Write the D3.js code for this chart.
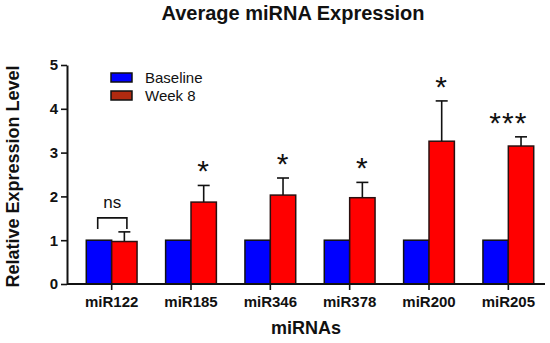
<!DOCTYPE html>
<html>
<head>
<meta charset="utf-8">
<script src="https://cdn.jsdelivr.net/npm/d3@7"></script>
<style>
  body { margin: 0; background: #fff; }
  text { font-family: "Liberation Sans", Arial, sans-serif; }
</style>
</head>
<body>
<div id="chart"></div>
<script>
// data
var categories = ["miR122", "miR185", "miR346", "miR378", "miR200", "miR205"];
var baseline = [1, 1, 1, 1, 1, 1];
var week8 = [0.97, 1.87, 2.03, 1.97, 3.26, 3.15];
var week8Err = [0.22, 0.38, 0.39, 0.35, 0.92, 0.21];
var marks = ["ns", "*", "*", "*", "*", "***"];
var yTicks = [0, 1, 2, 3, 4, 5];
var seriesNames = ["Baseline", "Week 8"];

var width = 550, height = 343;
var margin = {top: 65, right: 4, bottom: 59, left: 67};
var widthG = width - margin.left - margin.right;
var heightG = height - margin.top - margin.bottom;

var svg = d3.select("#chart").append("svg")
  .attr("width", width)
  .attr("height", height);

var g = svg.append("g")
  .attr("transform", "translate(" + margin.left + "," + margin.top + ")");

// scales
var x = d3.scaleBand()
  .domain(categories)
  .range([5, widthG + 2])
  .paddingInner(0.36)
  .paddingOuter(0.18);

var y = d3.scaleLinear()
  .domain([0, 5])
  .range([heightG, 0]);

var barW = x.bandwidth() / 2;

// bars
var groups = g.selectAll(".grp")
  .data(categories)
  .enter()
  .append("g")
  .attr("class", "grp");

groups.append("rect")
  .attr("x", function(d) { return x(d); })
  .attr("y", function(d, i) { return y(baseline[i]); })
  .attr("width", barW)
  .attr("height", function(d, i) { return heightG - y(baseline[i]); })
  .attr("fill", "#0000ff")
  .attr("stroke", "#111")
  .attr("stroke-width", 1.5);

groups.append("rect")
  .attr("x", function(d) { return x(d) + barW; })
  .attr("y", function(d, i) { return y(week8[i]); })
  .attr("width", barW)
  .attr("height", function(d, i) { return heightG - y(week8[i]); })
  .attr("fill", "#ff0000")
  .attr("stroke", "#2a1010")
  .attr("stroke-width", 1.5);

// error bars (upper only)
groups.append("line")
  .attr("x1", function(d) { return x(d) + barW * 1.5; })
  .attr("x2", function(d) { return x(d) + barW * 1.5; })
  .attr("y1", function(d, i) { return y(week8[i]); })
  .attr("y2", function(d, i) { return y(week8[i] + week8Err[i]); })
  .attr("stroke", "#111")
  .attr("stroke-width", 1.6);

groups.append("line")
  .attr("x1", function(d) { return x(d) + barW * 1.5 - 6; })
  .attr("x2", function(d) { return x(d) + barW * 1.5 + 6; })
  .attr("y1", function(d, i) { return y(week8[i] + week8Err[i]); })
  .attr("y2", function(d, i) { return y(week8[i] + week8Err[i]); })
  .attr("stroke", "#111")
  .attr("stroke-width", 1.6);

// significance marks
groups.each(function(d, i) {
  var grp = d3.select(this);
  var top = y(week8[i] + week8Err[i]);
  if (marks[i] === "ns") {
    var x1 = x(d) + barW * 0.45, x2 = x(d) + barW * 1.6;
    var by = top - 14;
    grp.append("path")
      .attr("d", "M" + x1 + "," + (by + 11) + "V" + by + "H" + x2 + "V" + (by + 11))
      .attr("fill", "none")
      .attr("stroke", "#111")
      .attr("stroke-width", 1.6);
    grp.append("text")
      .attr("x", (x1 + x2) / 2)
      .attr("y", by - 10)
      .attr("text-anchor", "middle")
      .style("font-size", "17px")
      .attr("fill", "#111")
      .text("ns");
  } else {
    grp.append("text")
      .attr("x", x(d) + barW * (marks[i].length > 1 ? 1 : 1.5))
      .attr("y", top - 4)
      .attr("text-anchor", "middle")
      .style("font-size", "30px")
      .style("letter-spacing", "1px")
      .attr("fill", "#111")
      .text(marks[i]);
  }
});

// axes
var xAxis = d3.axisBottom(x).tickSize(6).tickSizeOuter(0);
var gx = g.append("g")
  .attr("transform", "translate(0," + heightG + ")")
  .call(xAxis);
gx.select(".domain").attr("stroke", "#111").attr("stroke-width", 2)
  .attr("d", "M0,0H" + (widthG - 1));
gx.selectAll(".tick line")
  .attr("stroke", "#111").attr("stroke-width", 1.6);
gx.selectAll(".tick text")
  .attr("y", 12)
  .style("font-size", "15px")
  .style("font-weight", "bold")
  .attr("fill", "#111");

var yAxis = d3.axisLeft(y).tickValues(yTicks).tickFormat(d3.format("d"))
  .tickSize(6).tickSizeOuter(0);
var gy = g.append("g").call(yAxis);
gy.select(".domain").attr("stroke", "#111").attr("stroke-width", 2);
gy.selectAll(".tick line").attr("stroke", "#111").attr("stroke-width", 1.6);
gy.selectAll(".tick text")
  .attr("x", -9)
  .style("font-size", "15px")
  .style("font-weight", "bold")
  .attr("fill", "#111");

// legend
var legend = g.append("g").attr("transform", "translate(44,8)");
var legColors = ["#0000ff", "#b02a10"];
seriesNames.forEach(function(name, i) {
  legend.append("rect")
    .attr("x", 0)
    .attr("y", i * 18)
    .attr("width", 21)
    .attr("height", 9)
    .attr("fill", legColors[i])
    .attr("stroke", "#111")
    .attr("stroke-width", 1.5);
  legend.append("text")
    .attr("x", 34)
    .attr("y", i * 18 + 10)
    .style("font-size", "15px")
    .attr("fill", "#111")
    .text(name);
});

// titles
svg.append("text")
  .attr("x", 293)
  .attr("y", 20)
  .attr("text-anchor", "middle")
  .style("font-size", "20px")
  .style("font-weight", "bold")
  .attr("fill", "#111")
  .text("Average miRNA Expression");

svg.append("text")
  .attr("transform", "translate(19," + (margin.top + heightG / 2 + 2) + ") rotate(-90)")
  .attr("text-anchor", "middle")
  .style("font-size", "18px")
  .style("font-weight", "bold")
  .attr("fill", "#111")
  .text("Relative Expression Level");

svg.append("text")
  .attr("x", 306)
  .attr("y", 334)
  .attr("text-anchor", "middle")
  .style("font-size", "18px")
  .style("font-weight", "bold")
  .attr("fill", "#111")
  .text("miRNAs");
</script>
</body>
</html>
